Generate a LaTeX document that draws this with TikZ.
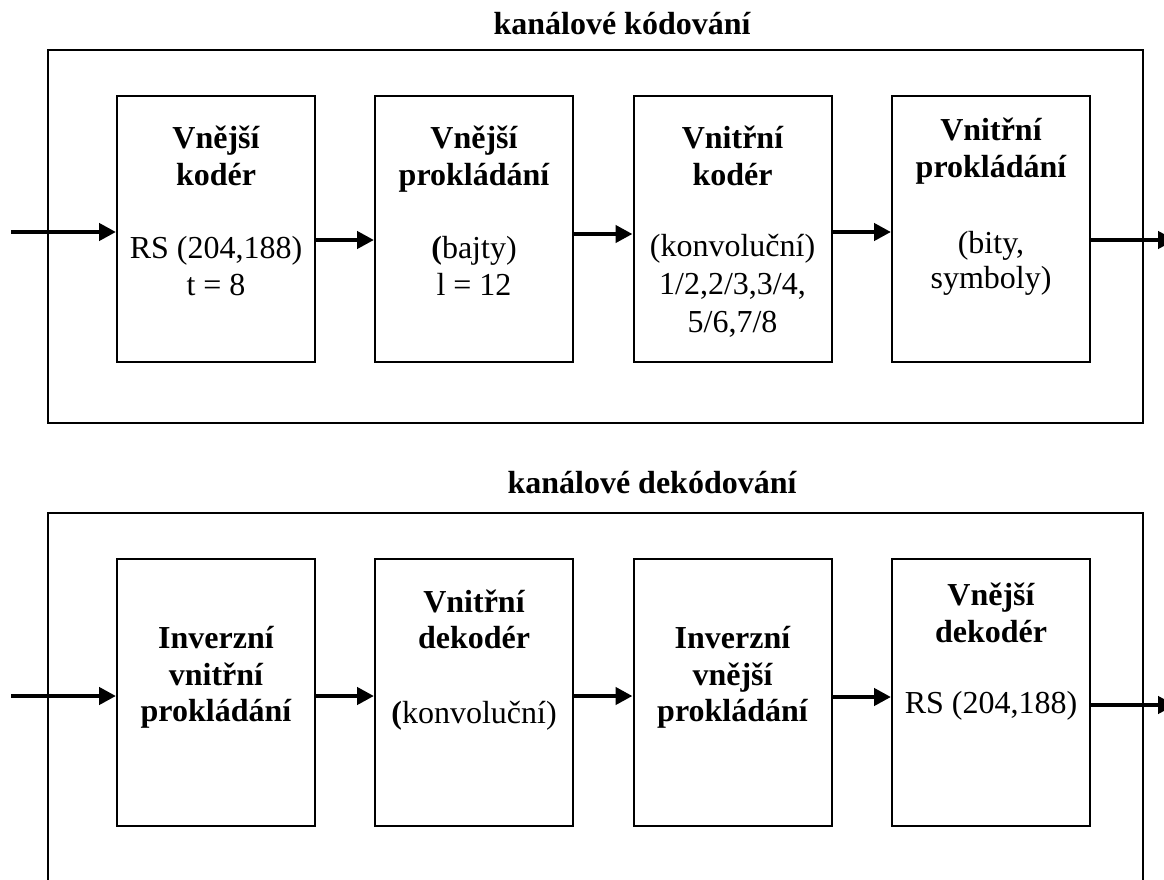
\documentclass[tikz,border=0pt]{standalone}
\usepackage{fontspec}
\setmainfont{Liberation Serif}
\usetikzlibrary{arrows.meta}
\begin{document}
\begin{tikzpicture}[x=1pt,y=-1pt,
  font=\fontsize{32}{36}\selectfont,
  frame/.style={draw, line width=2pt, inner sep=0pt},
  block/.style={draw, line width=2pt, minimum width=198pt, inner sep=0pt},
  head/.style={font=\fontsize{32}{36}\selectfont\bfseries, anchor=base, inner sep=0pt},
  txt/.style={anchor=base, inner sep=0pt},
  flow/.style={line width=4.5pt, -{Triangle[length=17pt,width=17pt]}}]
\useasboundingbox (0,0) rectangle (1164,880);
\clip (0,0) rectangle (1164,880);

% ---------- channel coding ----------
\node[head] (encT) at (622,35) {kanálové kódování};
\node[frame, minimum width=1095pt, minimum height=373pt] (enc) at (595.5,236.5) {};

\node[block, minimum height=266pt] (e1) at (216,229) {};
\node[block, minimum height=266pt] (e2) at (474,229) {};
\node[block, minimum height=266pt] (e3) at (732.5,229) {};
\node[block, minimum height=266pt] (e4) at (991,229) {};

\node[head] (e1a) at (216,148) {Vnější};
\node[head] (e1b) at (216,185) {kodér};
\node[txt]  (e1c) at (216,258) {RS (204,188)};
\node[txt]  (e1d) at (216,295) {t = 8};

\node[head] (e2a) at (474,148) {Vnější};
\node[head] (e2b) at (474,185) {prokládání};
\node[txt]  (e2c) at (474,258) {{\bfseries(}bajty)};
\node[txt]  (e2d) at (474,295) {l = 12};

\node[head] (e3a) at (732.5,148) {Vnitřní};
\node[head] (e3b) at (732.5,185) {kodér};
\node[txt]  (e3c) at (732.5,256) {(konvoluční)};
\node[txt]  (e3d) at (732.5,294) {1/2,2/3,3/4,};
\node[txt]  (e3e) at (732.5,332) {5/6,7/8};

\node[head] (e4a) at (991,140) {Vnitřní};
\node[head] (e4b) at (991,177) {prokládání};
\node[txt]  (e4c) at (991,253) {(bity,};
\node[txt]  (e4d) at (991,288) {symboly)};

\coordinate (encIn) at (11,232);
\coordinate (encOut) at (1175,240);
\draw[flow] (encIn) -- (e1.west |- encIn);
\draw[flow] (e1.east |- 0,240) -- (e2.west |- 0,240);
\draw[flow] (e2.east |- 0,234) -- (e3.west |- 0,234);
\draw[flow] (e3.east |- 0,232) -- (e4.west |- 0,232);
\draw[flow] (e4.east |- encOut) -- (encOut);

% ---------- channel decoding ----------
\node[head] (decT) at (652,493) {kanálové dekódování};
\node[frame, minimum width=1095pt, minimum height=407pt] (dec) at (595.5,716.5) {};

\node[block, minimum height=267pt] (d1) at (216,692.5) {};
\node[block, minimum height=267pt] (d2) at (474,692.5) {};
\node[block, minimum height=267pt] (d3) at (732.5,692.5) {};
\node[block, minimum height=267pt] (d4) at (991,692.5) {};

\node[head] (d1a) at (216,648) {Inverzní};
\node[head] (d1b) at (216,685) {vnitřní};
\node[head] (d1c) at (216,721) {prokládání};

\node[head] (d2a) at (474,612) {Vnitřní};
\node[head] (d2b) at (474,648) {dekodér};
\node[txt]  (d2c) at (474,723) {{\bfseries(}konvoluční)};

\node[head] (d3a) at (732.5,648) {Inverzní};
\node[head] (d3b) at (732.5,685) {vnější};
\node[head] (d3c) at (732.5,721) {prokládání};

\node[head] (d4a) at (991,605) {Vnější};
\node[head] (d4b) at (991,642) {dekodér};
\node[txt]  (d4c) at (991,713) {RS (204,188)};

\coordinate (decIn) at (11,696);
\coordinate (decOut) at (1175,705);
\draw[flow] (decIn) -- (d1.west |- decIn);
\draw[flow] (d1.east |- 0,696) -- (d2.west |- 0,696);
\draw[flow] (d2.east |- 0,696) -- (d3.west |- 0,696);
\draw[flow] (d3.east |- 0,697) -- (d4.west |- 0,697);
\draw[flow] (d4.east |- decOut) -- (decOut);
\end{tikzpicture}
\end{document}
